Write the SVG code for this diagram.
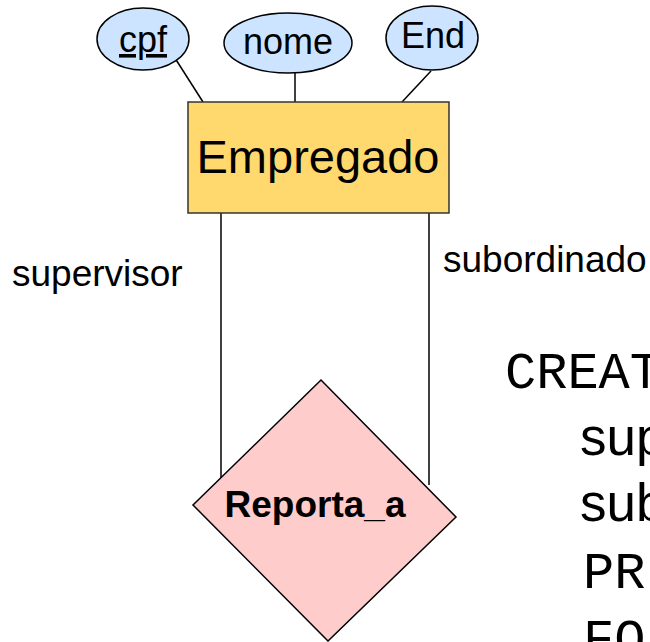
<svg xmlns="http://www.w3.org/2000/svg" width="650" height="642" viewBox="0 0 650 642">
<style>
.attr{fill:#CCE4FF;stroke:#000;stroke-width:1.5}
.sans{font-family:"Liberation Sans",Arial,sans-serif;fill:#000}
.mono{font-family:"Liberation Mono","Courier New",monospace;fill:#000;font-size:52px}
.ln{stroke:#000;stroke-width:1.5;fill:none}
</style>
<rect width="650" height="642" fill="#fff"/>
<g id="connectors">
<line class="ln" x1="173" y1="55" x2="203" y2="102"/>
<line class="ln" x1="295" y1="72" x2="295" y2="102"/>
<line class="ln" x1="431" y1="71" x2="402" y2="102"/>
<line class="ln" x1="221" y1="213" x2="221" y2="483"/>
<line class="ln" x1="429" y1="213" x2="429" y2="485"/>
</g>
<g id="cpf">
<ellipse class="attr" cx="143" cy="39" rx="46" ry="31"/>
<text class="sans" x="143" y="52" font-size="36" text-anchor="middle" text-decoration="underline">cpf</text>
</g>
<g id="nome">
<ellipse class="attr" cx="288" cy="43" rx="64" ry="30"/>
<text class="sans" x="288" y="54" font-size="36" text-anchor="middle">nome</text>
</g>
<g id="End">
<ellipse class="attr" cx="432" cy="38" rx="46" ry="32"/>
<text class="sans" x="433" y="48" font-size="36" text-anchor="middle">End</text>
</g>
<g id="Empregado">
<rect x="188" y="102" width="261" height="111" fill="#FFD86E" stroke="#333" stroke-width="1.5"/>
<text class="sans" x="318" y="173" font-size="47" text-anchor="middle">Empregado</text>
</g>
<g id="Reporta_a">
<polygon points="321,380 456,517 328,641 193,505" fill="#FFCCCC" stroke="#000" stroke-width="1.5"/>
<text class="sans" x="315" y="517" font-size="37" font-weight="bold" text-anchor="middle">Reporta_a</text>
</g>
<g id="labels">
<text class="sans" x="12" y="286" font-size="37">supervisor</text>
<text class="sans" x="443" y="272" font-size="37">subordinado</text>
</g>
<g id="code">
<text class="mono" x="505" y="388">CREAT</text>
<text class="sans" x="580" y="455" font-size="53">sup</text>
<text class="sans" x="580" y="521" font-size="53">sub</text>
<text class="mono" x="583" y="588">PR</text>
<text class="mono" x="583" y="655">FO</text>
</g>
</svg>
